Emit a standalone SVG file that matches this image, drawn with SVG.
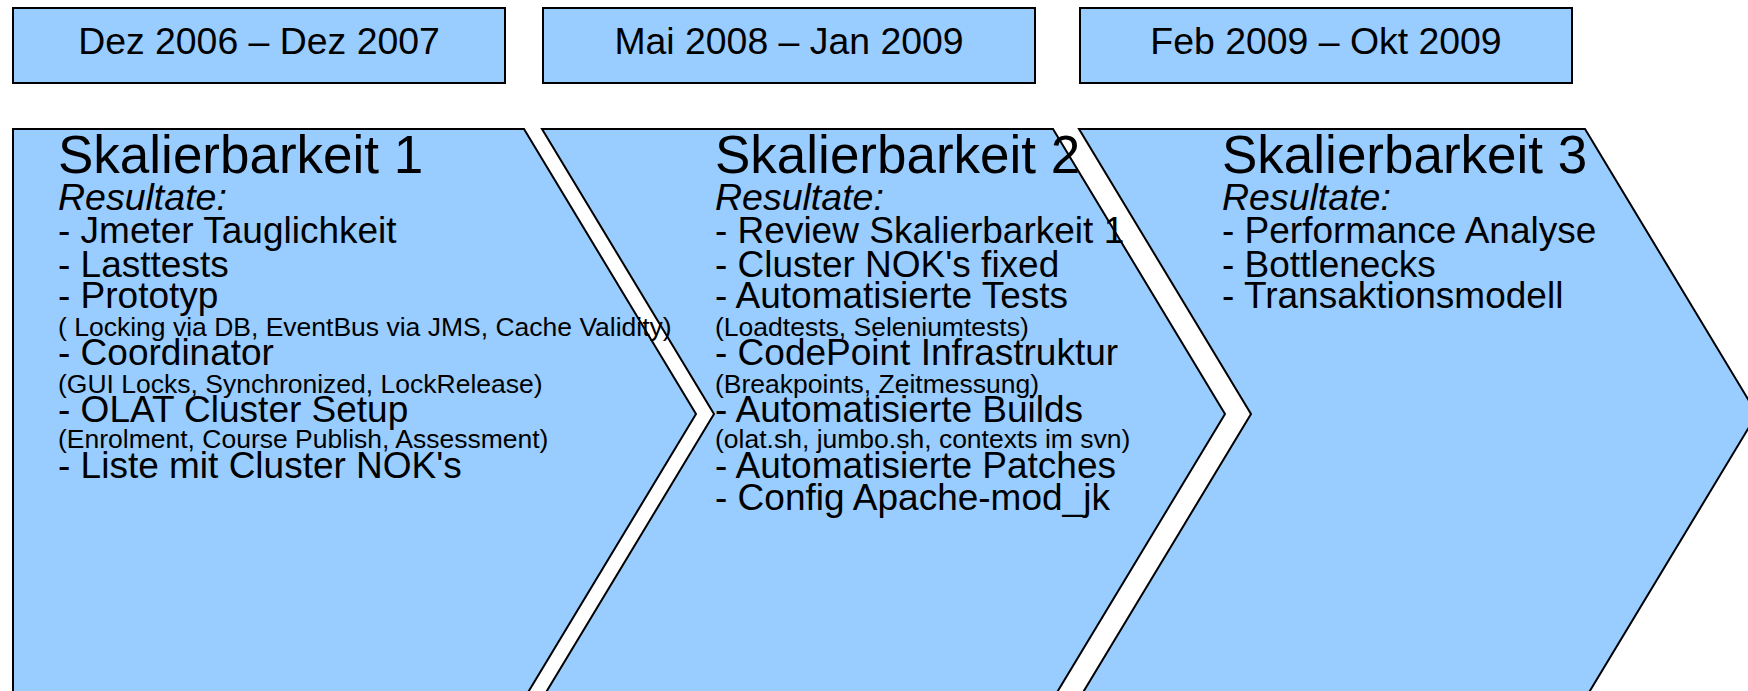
<svg xmlns="http://www.w3.org/2000/svg" width="1748" height="691" viewBox="0 0 1748 691">
  <style>
    .box { fill: #99CCFF; stroke: #000; stroke-width: 2; }
    .date { font-family: "Liberation Sans", Arial, sans-serif; font-size: 37.4px; fill: #000; text-anchor: middle; }
    .txt { font-family: "Liberation Sans", Arial, sans-serif; fill: #000; }
    .title { font-size: 53px; }
    .sub { font-size: 37.5px; font-style: italic; }
    .item { font-size: 37px; }
    .small { font-size: 26.5px; }
  </style>

  <!-- period headers -->
  <g id="period1">
    <rect class="box" x="13" y="8" width="492" height="75"/>
    <text class="date" x="259" y="54">Dez 2006 – Dez 2007</text>
  </g>
  <g id="period2">
    <rect class="box" x="543" y="8" width="492" height="75"/>
    <text class="date" x="789" y="54">Mai 2008 – Jan 2009</text>
  </g>
  <g id="period3">
    <rect class="box" x="1080" y="8" width="492" height="75"/>
    <text class="date" x="1326" y="54">Feb 2009 – Okt 2009</text>
  </g>

  <!-- chevron shapes -->
  <g id="phase1">
    <path class="box" d="M13,129 L524,129 L696,414 L524,699 L13,699 Z"/>
  </g>
  <g id="phase2">
    <path class="box" d="M542,129 L1053,129 L1225,414 L1053,699 L542,699 L714,414 Z"/>
  </g>
  <g id="phase3">
    <path class="box" d="M1079,129 L1585,129 L1757,414 L1585,699 L1079,699 L1251,414 Z"/>
  </g>

  <!-- phase texts, drawn above all shapes -->
  <g id="phase1-text" class="txt">
    <text class="title" x="58" y="173">Skalierbarkeit 1</text>
    <text class="sub" x="58" y="210">Resultate:</text>
    <text class="item" x="58" y="243">- Jmeter Tauglichkeit</text>
    <text class="item" x="58" y="277">- Lasttests</text>
    <text class="item" x="58" y="308">- Prototyp</text>
    <text class="small" x="58" y="336">( Locking via DB, EventBus via JMS, Cache Validity)</text>
    <text class="item" x="58" y="365">- Coordinator</text>
    <text class="small" x="58" y="393">(GUI Locks, Synchronized, LockRelease)</text>
    <text class="item" x="58" y="422">- OLAT Cluster Setup</text>
    <text class="small" x="58" y="448">(Enrolment, Course Publish, Assessment)</text>
    <text class="item" x="58" y="478">- Liste mit Cluster NOK's</text>
  </g>
  <g id="phase2-text" class="txt">
    <text class="title" x="715" y="173">Skalierbarkeit 2</text>
    <text class="sub" x="715" y="210">Resultate:</text>
    <text class="item" x="715" y="243">- Review Skalierbarkeit 1</text>
    <text class="item" x="715" y="277">- Cluster NOK's fixed</text>
    <text class="item" x="715" y="308">- Automatisierte Tests</text>
    <text class="small" x="715" y="336">(Loadtests, Seleniumtests)</text>
    <text class="item" x="715" y="365">- CodePoint Infrastruktur</text>
    <text class="small" x="715" y="393">(Breakpoints, Zeitmessung)</text>
    <text class="item" x="715" y="422">- Automatisierte Builds</text>
    <text class="small" x="715" y="448">(olat.sh, jumbo.sh, contexts im svn)</text>
    <text class="item" x="715" y="478">- Automatisierte Patches</text>
    <text class="item" x="715" y="510">- Config Apache-mod_jk</text>
  </g>
  <g id="phase3-text" class="txt">
    <text class="title" x="1222" y="173">Skalierbarkeit 3</text>
    <text class="sub" x="1222" y="210">Resultate:</text>
    <text class="item" x="1222" y="243">- Performance Analyse</text>
    <text class="item" x="1222" y="277">- Bottlenecks</text>
    <text class="item" x="1222" y="308">- Transaktionsmodell</text>
  </g>
</svg>
